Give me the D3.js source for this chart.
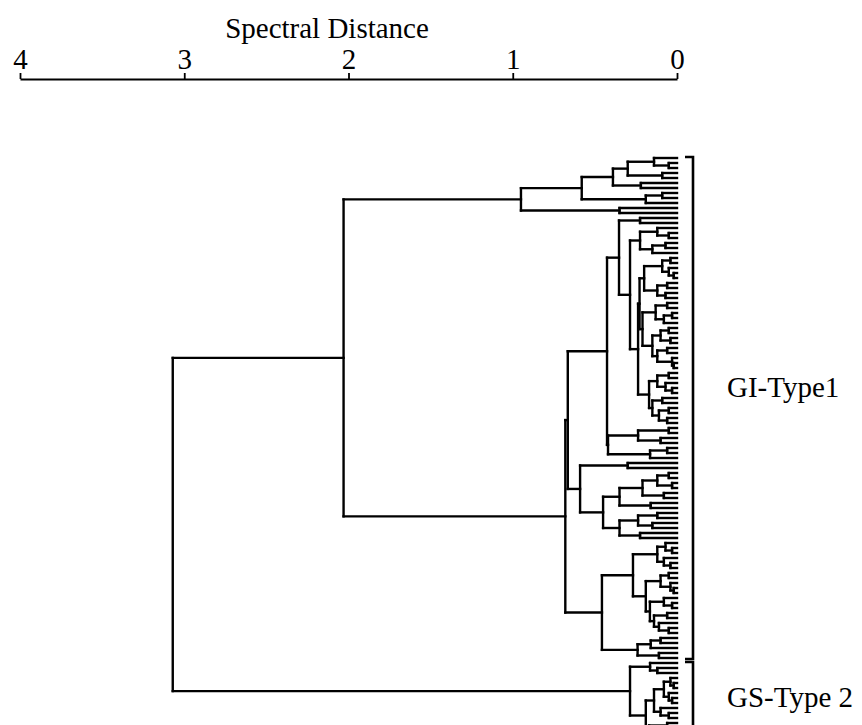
<!DOCTYPE html>
<html>
<head>
<meta charset="utf-8">
<script src="https://cdn.jsdelivr.net/npm/d3@7"></script>
<style>
  html, body { margin: 0; padding: 0; background: #fff; }
  svg { display: block; }
  text { font-family: "Liberation Serif", "Times New Roman", serif; fill: #000; }
</style>
</head>
<body>
<svg id="chart" width="862" height="725"></svg>
<script>
// Merge heights (spectral distance). Each cluster is [height, child, child, ...];
// a bare 0 stands for a single spectrum (leaf).
const clusterA = [0.95,
  [0.58,
    [0.39,
      [0.30, [0.14, 0, [0.05, 0, 0]], [0.09, 0, 0]],
      [0.22, 0, 0]],
    [0.19, [0.09, 0, 0], 0]],
  [0.35, 0, 0]];

const clusterG = [0.353,
  [0.225, 0, 0],
  [0.286,
    [0.225, [0.12, 0, [0.05, 0, 0]], [0.15, [0.07, 0, 0], 0]],
    [0.237,
      [0.228,
        [0.20, [0.09, [0.04, 0, 0], [0.05, 0, [0.02, 0, 0]]], [0.12, [0.06, 0, 0], [0.07, 0, 0]]],
        [0.21,
          [0.13, [0.06, 0, 0], [0.08, [0.03, 0, 0], 0]],
          [0.15,
            [0.10, [0.05, 0, 0], [0.04, 0, 0]],
            [0.12, [0.06, 0, 0], [0.03, 0, [0.02, 0, 0]]]]]],
      [0.17,
        [0.12, [0.05, 0, 0], [0.07, 0, [0.03, 0, 0]]],
        [0.15, [0.09, 0, 0], [0.11, [0.05, 0, 0], [0.06, 0, 0]]]]]]];

const clusterH = [0.42,
  [0.237, [0.05, 0, 0], [0.10, 0, 0]],
  [0.164, [0.06, 0, 0], 0]];

const clusterF = [0.59,
  [0.30, 0, 0],
  [0.45,
    [0.35, [0.21, [0.12, [0.05, 0, 0], [0.03, 0, 0]], [0.08, 0, 0]], [0.16, 0, 0]],
    [0.35, [0.237, [0.12, 0, 0], [0.15, 0, 0]], [0.225, 0, 0]]]];

const clusterC = [0.457,
  [0.268,
    [0.12, [0.07, 0, [0.03, 0, 0]], [0.08, 0, [0.04, 0, 0]]],
    [0.19,
      [0.10, [0.05, 0, 0], [0.04, 0, [0.02, 0, 0]]],
      [0.165,
        [0.08, 0, [0.03, 0, 0]],
        [0.14, [0.06, 0, 0], [0.11, 0, [0.05, 0, 0]]]]]],
  [0.24, [0.16, [0.10, 0, 0], 0], [0.11, 0, 0]]];

const clusterGS = [0.286,
  [0.164, 0, [0.12, 0, 0]],
  [0.19,
    [0.14,
      [0.08, [0.04, 0, [0.02, 0, 0]], [0.05, 0, [0.03, 0, 0]]],
      [0.10, 0, [0.05, 0, 0]]],
    [0.17, [0.06, 0, 0], [0.09, 0, 0]]]];

// Upper levels of the tree
const rootHeight = 3.07;
const giHeight = 2.03;
const giMainHeight = 0.68;
const giCoreHeight = 0.665;
const giCoreUpperHeight = 0.426;

const distanceTicks = [4, 3, 2, 1, 0];
const groupLabels = ["GI-Type1", "GS-Type 2"];
const axisTitle = "Spectral Distance";

const treeData = [rootHeight,
  [giHeight,
    clusterA,
    [giMainHeight,
      [giCoreHeight, [giCoreUpperHeight, clusterG, clusterH], clusterF],
      clusterC]],
  clusterGS];

// ---- layout ----
const svg = d3.select("#chart");
const FONT = 29;

const x = d3.scaleLinear().domain([4, 0]).range([20, 677]);

function toNode(a) {
  return Array.isArray(a)
    ? { h: a[0], children: a.slice(1).map(toNode) }
    : { h: 0 };
}

const root = d3.hierarchy(toNode(treeData));
const leaves = root.leaves();
const yLeaf = d3.scaleLinear().domain([0, 1]).range([158, 163]);
leaves.forEach((d, i) => { d.py = yLeaf(i); });
root.eachAfter(d => {
  if (d.children) {
    const ys = d.children.map(c => c.py);
    d.py = (d3.min(ys) + d3.max(ys)) / 2;
  }
});

// ---- axis ----
const axisY = 79;
const axis = d3.axisTop(x)
  .tickValues(distanceTicks)
  .tickFormat(d3.format("d"))
  .tickSizeInner(6)
  .tickSizeOuter(0)
  .tickPadding(4);

const gAxis = svg.append("g")
  .attr("transform", `translate(0,${axisY})`)
  .call(axis);
gAxis.select(".domain").attr("stroke", "#000").attr("stroke-width", 2.2);
gAxis.selectAll(".tick line").attr("stroke", "#000").attr("stroke-width", 1.8);
gAxis.selectAll(".tick text")
  .attr("font-family", "Liberation Serif, serif")
  .attr("font-size", FONT)
  .attr("fill", "#000");

svg.append("text")
  .attr("x", 327)
  .attr("y", 38)
  .attr("text-anchor", "middle")
  .attr("font-size", FONT)
  .text(axisTitle);

// ---- dendrogram ----
const gTree = svg.append("g")
  .attr("fill", "none")
  .attr("stroke", "#000")
  .attr("stroke-width", 2.4)
  .attr("stroke-linecap", "square");

const links = [];
root.each(d => {
  if (d.children) {
    const ys = d.children.map(c => c.py);
    links.push([[x(d.data.h), d3.min(ys)], [x(d.data.h), d3.max(ys)]]);
    d.children.forEach(c => {
      links.push([[x(d.data.h), c.py], [x(c.data.h), c.py]]);
    });
  }
});

gTree.selectAll("path")
  .data(links)
  .join("path")
  .attr("d", d => d3.line()(d));

// ---- group brackets and labels ----
const bracketX = 693;
const groups = root.children.map((g, i) => {
  const lv = g.leaves();
  return { name: groupLabels[i], y0: lv[0].py - 1, y1: lv[lv.length - 1].py + 1 };
});

const gBr = svg.append("g")
  .attr("fill", "none")
  .attr("stroke", "#000")
  .attr("stroke-width", 2.6);

groups.forEach(g => {
  gBr.append("path")
    .attr("d", `M${bracketX - 8},${g.y0}H${bracketX}V${g.y1}H${bracketX - 8}`);
});

svg.append("text")
  .attr("x", 727)
  .attr("y", 397)
  .attr("font-size", FONT)
  .text(groups[0].name);

svg.append("text")
  .attr("x", 727)
  .attr("y", 707)
  .attr("font-size", FONT)
  .text(groups[1].name);
</script>
</body>
</html>
